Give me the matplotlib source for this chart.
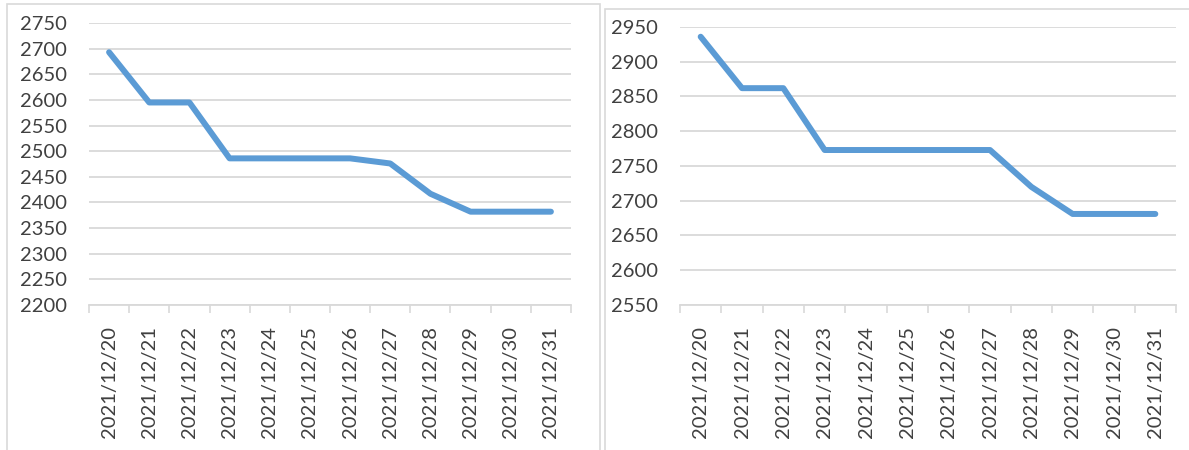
import matplotlib

matplotlib.use("Agg")
import matplotlib.pyplot as plt
from matplotlib.patches import Rectangle

# ── Data ─────────────────────────────────────────────────────────────
dates = [
    "2021/12/20", "2021/12/21", "2021/12/22", "2021/12/23",
    "2021/12/24", "2021/12/25", "2021/12/26", "2021/12/27",
    "2021/12/28", "2021/12/29", "2021/12/30", "2021/12/31",
]
left_values = [2693, 2595, 2595, 2486, 2486, 2486, 2486, 2476, 2417, 2382, 2382, 2382]
right_values = [2936, 2862, 2862, 2773, 2773, 2773, 2773, 2773, 2720, 2681, 2681, 2681]

left_yticks = list(range(2200, 2751, 50))
right_yticks = list(range(2550, 2951, 50))

# ── Style ────────────────────────────────────────────────────────────
W, H = 1189, 450
LINE_COLOR = "#5B9BD5"
GRID_COLOR = "#D9D9D9"
TEXT_COLOR = "#404040"
plt.rcParams["font.family"] = ["Lato", "DejaVu Sans"]

fig = plt.figure(figsize=(W / 100, H / 100), dpi=100)
fig.patch.set_facecolor("white")


def px_axes(x0, y_top, x1, y_bottom):
    """Add axes from pixel coordinates (origin top-left)."""
    return fig.add_axes([x0 / W, 1 - y_bottom / H, (x1 - x0) / W, (y_bottom - y_top) / H])


# panel frames
for x0, y0, x1 in [(7, 4, 600), (605, 9, 1195)]:
    fig.patches.append(Rectangle((x0 / W, -0.05), (x1 - x0) / W, 1.05 - y0 / H,
                                 transform=fig.transFigure, fill=False,
                                 edgecolor="#D9D9D9", linewidth=1.2, zorder=0))


def draw_panel(ax, values, yticks):
    xs = range(len(values))
    ax.plot(xs, values, color=LINE_COLOR, linewidth=4.3, solid_capstyle="round",
            solid_joinstyle="round", zorder=3)
    ax.set_xlim(-0.5, len(values) - 0.5)
    ax.set_ylim(yticks[0], yticks[-1])
    ax.set_yticks(yticks)
    ax.set_yticklabels([str(t) for t in yticks])
    ax.yaxis.grid(True, color=GRID_COLOR, linewidth=1.3)
    ax.set_axisbelow(True)
    ax.set_xticks(list(xs))
    ax.set_xticklabels(dates, rotation=90)
    ax.set_xticks([i - 0.5 for i in range(len(values) + 1)], minor=True)
    ax.tick_params(axis="x", which="major", length=0, pad=15, labelsize=14.5,
                   labelcolor=TEXT_COLOR)
    ax.tick_params(axis="x", which="minor", length=6, width=1.2, color=GRID_COLOR)
    ax.tick_params(axis="y", length=0, pad=16, labelsize=14.5, labelcolor=TEXT_COLOR)
    for side in ["top", "right", "left"]:
        ax.spines[side].set_visible(False)
    ax.spines["bottom"].set_color(GRID_COLOR)
    ax.spines["bottom"].set_linewidth(1.3)
    ax.set_facecolor("none")


ax1 = px_axes(89, 23, 571, 305)
draw_panel(ax1, left_values, left_yticks)

ax2 = px_axes(680, 27, 1176, 305)
draw_panel(ax2, right_values, right_yticks)

plt.savefig("out.png", dpi=100)
plt.close(fig)
